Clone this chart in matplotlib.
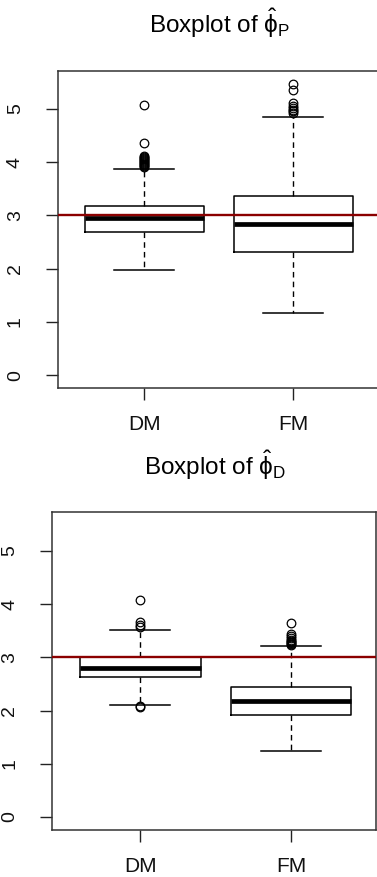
import matplotlib
matplotlib.use('Agg')
import matplotlib.pyplot as plt

plt.rcParams['font.family'] = ['Liberation Sans', 'DejaVu Sans']
plt.rcParams['mathtext.fontset'] = 'custom'
plt.rcParams['mathtext.rm'] = 'Liberation Sans'
plt.rcParams['mathtext.it'] = 'Liberation Sans'
plt.rcParams['mathtext.bf'] = 'Liberation Sans:bold'

methods = ['DM', 'FM']
true_value = 3
y_ticks = [0, 1, 2, 3, 4, 5]

# Panel 1: phi_P
p_q1 = [2.69, 2.31]
p_med = [2.95, 2.84]
p_q3 = [3.18, 3.37]
p_wlo = [1.98, 1.17]
p_whi = [3.87, 4.85]
p_out_dm = [3.90, 3.92, 3.94, 3.96, 3.98, 4.00, 4.02, 4.04, 4.06, 4.08, 4.10, 4.12, 4.35, 5.07]
p_out_fm = [4.92, 4.95, 4.98, 5.02, 5.06, 5.10, 5.35, 5.47]

# Panel 2: phi_D
d_q1 = [2.64, 1.92]
d_med = [2.80, 2.18]
d_q3 = [3.00, 2.44]
d_wlo = [2.11, 1.25]
d_whi = [3.52, 3.21]
d_out_dm = [2.06, 2.08, 3.57, 3.61, 3.67, 4.08]
d_out_fm = [3.23, 3.25, 3.27, 3.29, 3.31, 3.33, 3.36, 3.40, 3.45, 3.65]

W, H = 377, 877
fig = plt.figure(figsize=(W / 100, H / 100), dpi=100)


def make_stats(q1, med, q3, wlo, whi, outs):
    st = []
    for i in range(len(methods)):
        st.append(dict(q1=q1[i], med=med[i], q3=q3[i], whislo=wlo[i],
                       whishi=whi[i], fliers=outs[i], label=methods[i]))
    return st


def panel(rect, xlim, ylim, stats, title, title_xy):
    ax = fig.add_axes(rect)
    ax.bxp(stats, positions=[1, 2], widths=0.8,
           boxprops=dict(color='black', lw=1.1),
           medianprops=dict(color='black', lw=3.4, solid_capstyle='butt'),
           whiskerprops=dict(color='black', lw=1.0, linestyle=(0, (4, 3))),
           capprops=dict(color='black', lw=1.1),
           flierprops=dict(marker='o', mfc='none', mec='black', ms=6.2, mew=0.9))
    ax.axhline(true_value, color='#8B0000', lw=1.7, zorder=5)
    ax.set_xlim(*xlim)
    ax.set_ylim(*ylim)
    ax.set_yticks(y_ticks)
    ax.set_yticklabels([str(t) for t in y_ticks], rotation=90, va='center',
                       fontsize=14)
    ax.set_xticks([1, 2])
    ax.set_xticklabels(methods, fontsize=15)
    ax.tick_params(axis='y', length=8.6, width=1.0, pad=16, colors='#222222',
                   labelcolor='#111111')
    ax.tick_params(axis='x', length=8.6, width=1.0, pad=11, colors='#222222',
                   labelcolor='#111111')
    for s in ax.spines.values():
        s.set_color('#333333')
        s.set_linewidth(1.1)
    fig.text(title_xy[0] / W, 1 - title_xy[1] / H, title, ha='center',
             va='baseline', fontsize=17.5)
    return ax


stats_p = make_stats(p_q1, p_med, p_q3, p_wlo, p_whi, [p_out_dm, p_out_fm])
stats_d = make_stats(d_q1, d_med, d_q3, d_wlo, d_whi, [d_out_dm, d_out_fm])

panel([58 / W, 1 - 388 / H, 322 / W, 317 / H], (0.421, 2.582), (-0.24, 5.71),
      stats_p, r'Boxplot of $\hat{\phi}_{\mathrm{P}}$', (219, 33))
panel([52.3 / W, 1 - 830 / H, 323.7 / W, 318.3 / H], (0.416, 2.564), (-0.244, 5.74),
      stats_d, r'Boxplot of $\hat{\phi}_{\mathrm{D}}$', (215, 475))

fig.savefig('out.png', dpi=100)
